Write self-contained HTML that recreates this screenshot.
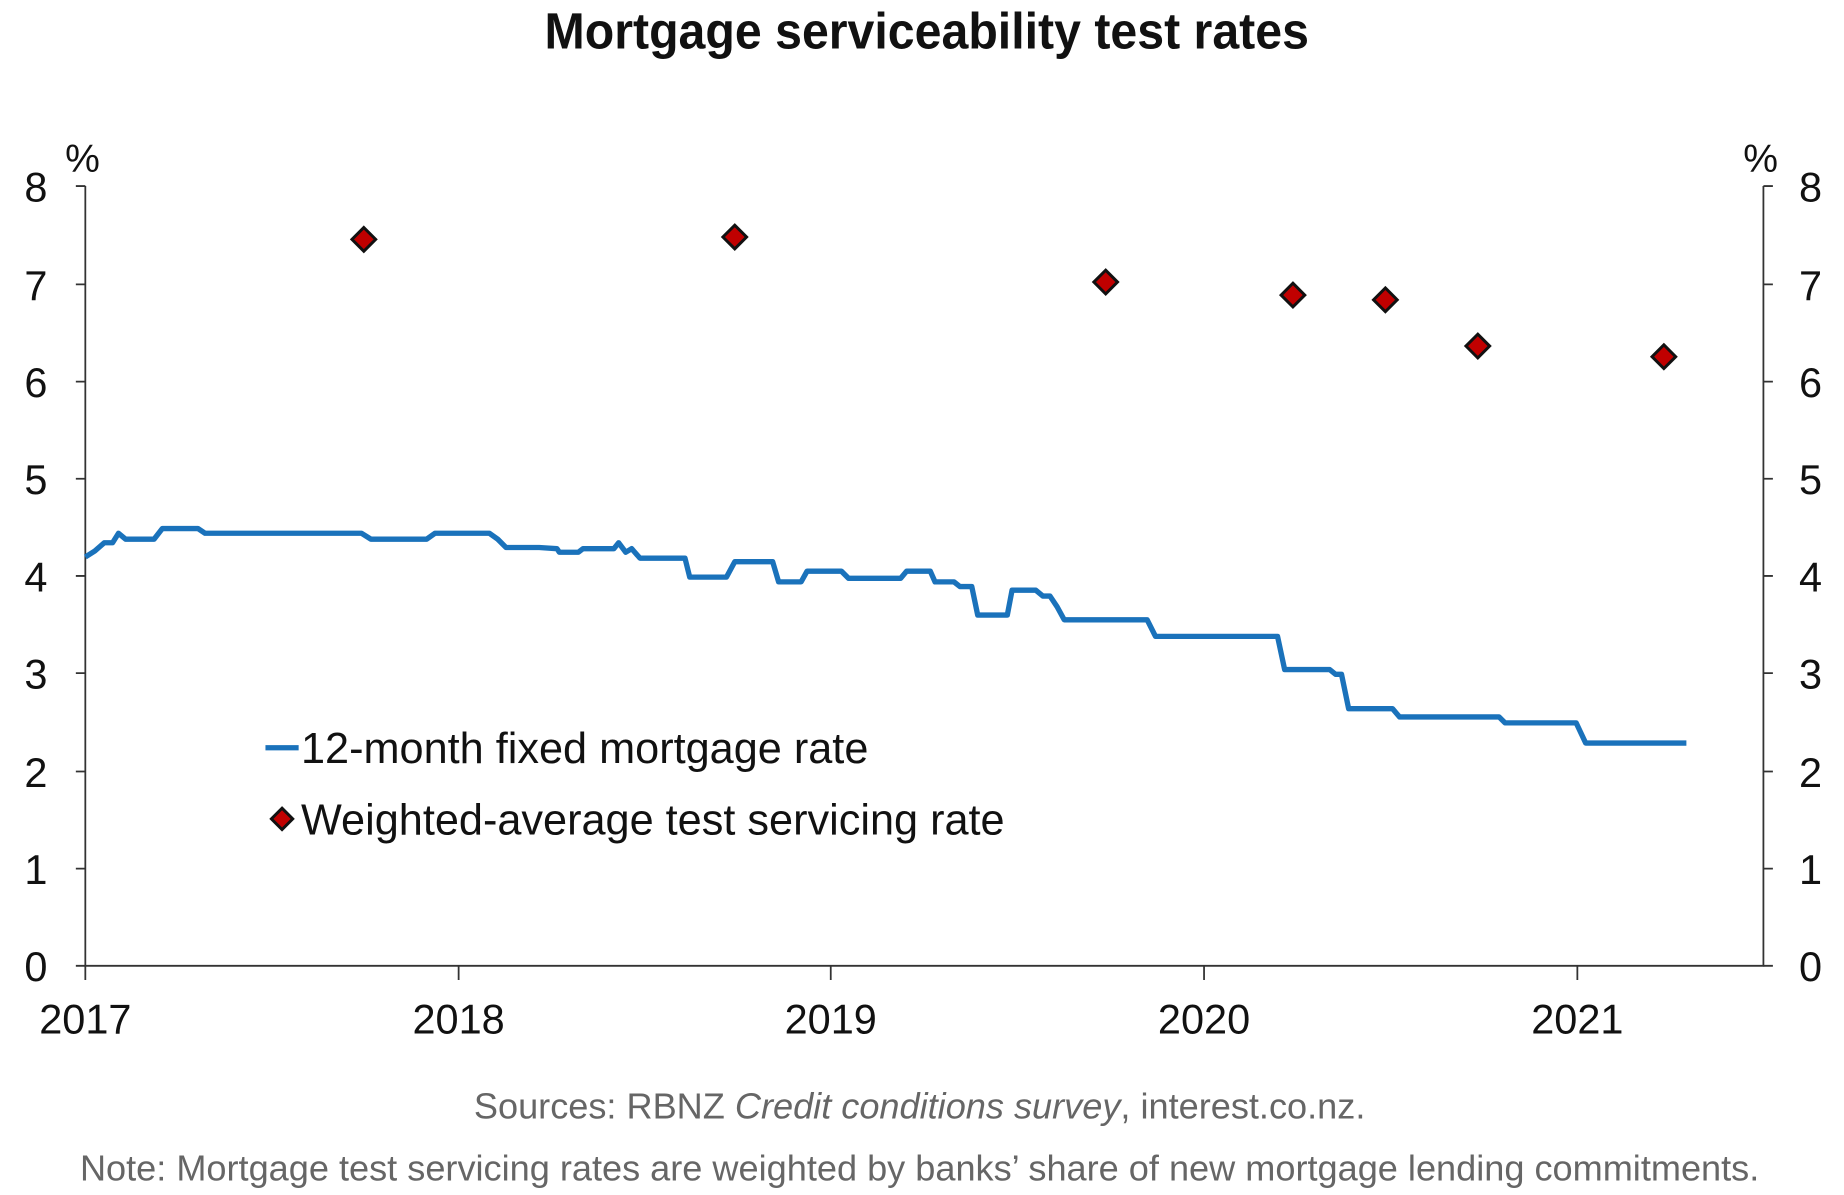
<!DOCTYPE html>
<html><head><meta charset="utf-8"><style>html,body{margin:0;padding:0;background:#fff}svg{display:block}</style></head>
<body>
<svg width="1844" height="1195" viewBox="0 0 1556 1008.4" preserveAspectRatio="none" xmlns="http://www.w3.org/2000/svg" font-family="Liberation Sans, sans-serif">
<text x="782" y="41" text-anchor="middle" font-family="Liberation Sans Narrow, Liberation Sans, sans-serif" font-weight="bold" font-size="43" textLength="645" lengthAdjust="spacingAndGlyphs" fill="#111">Mortgage serviceability test rates</text>
<g stroke="#333" stroke-width="1.5" fill="none">
<path d="M72,157V815H1488V157"/>
<path d="M64,157H72M64,240H72M64,322H72M64,404H72M64,486H72M64,568H72M64,651H72M64,733H72M64,815H72"/>
<path d="M1488,157H1496M1488,240H1496M1488,322H1496M1488,404H1496M1488,486H1496M1488,568H1496M1488,651H1496M1488,733H1496M1488,815H1496"/>
<path d="M72,815V827M387,815V827M701,815V827M1016,815V827M1331,815V827"/>
</g>
<g font-size="35" fill="#111" text-anchor="end">
<text x="40" y="170">8</text><text x="40" y="253">7</text><text x="40" y="335">6</text><text x="40" y="417">5</text><text x="40" y="499">4</text><text x="40" y="581">3</text><text x="40" y="664">2</text><text x="40" y="746">1</text><text x="40" y="828">0</text>
</g>
<g font-size="35" fill="#111">
<text x="1518" y="170">8</text><text x="1518" y="253">7</text><text x="1518" y="335">6</text><text x="1518" y="417">5</text><text x="1518" y="499">4</text><text x="1518" y="581">3</text><text x="1518" y="664">2</text><text x="1518" y="746">1</text><text x="1518" y="828">0</text>
<text x="55" y="145" font-size="33">%</text><text x="1471" y="145" font-size="33">%</text>
</g>
<g font-size="35" fill="#111" text-anchor="middle">
<text x="72" y="872">2017</text><text x="387" y="872">2018</text><text x="701" y="872">2019</text><text x="1016" y="872">2020</text><text x="1331" y="872">2021</text>
</g>
<polyline fill="none" stroke="#1a72bb" stroke-width="4.5" stroke-linejoin="round" points="72,470 80,465 88,458 95,458 100,450 106,455 130,455 137,446 167,446 173,450 305,450 313,455 360,455 367,450 413,450 420,455 427,462 455,462 470,463 472,466 488,466 492,463 518,463 522,458 528,466 533,463 540,471 578,471 582,487 613,487 620,474 652,474 657,491 676,491 681,482 710,482 716,488 760,488 765,482 785,482 789,491 805,491 810,495 820,495 825,519 850,519 854,498 874,498 880,503 886,503 892,512 898,523 968,523 975,537 1078,537 1084,565 1122,565 1127,569 1132,569 1138,598 1175,598 1181,605 1265,605 1270,610 1330,610 1338,627 1423,627"/>
<g fill="#c00000" stroke="#111" stroke-width="2.5">
<path d="M307,192l10,10l-10,10l-10,-10z"/>
<path d="M620,190l10,10l-10,10l-10,-10z"/>
<path d="M933,228l10,10l-10,10l-10,-10z"/>
<path d="M1091,239l10,10l-10,10l-10,-10z"/>
<path d="M1169,243l10,10l-10,10l-10,-10z"/>
<path d="M1247,282l10,10l-10,10l-10,-10z"/>
<path d="M1404,291l10,10l-10,10l-10,-10z"/>
<path d="M238,682l9,9l-9,9l-9,-9z"/>
</g>
<line x1="224" y1="631" x2="252" y2="631" stroke="#1a72bb" stroke-width="4.5"/>
<g font-size="36.5" fill="#111">
<text x="254" y="644">12-month fixed mortgage rate</text>
<text x="254" y="704">Weighted-average test servicing rate</text>
</g>
<g font-size="30.5" fill="#666" text-anchor="middle">
<text x="776" y="944">Sources: RBNZ <tspan font-style="italic">Credit conditions survey</tspan>, interest.co.nz.</text>
<text x="776" y="996">Note: Mortgage test servicing rates are weighted by banks’ share of new mortgage lending commitments.</text>
</g>
</svg>
</body></html>
